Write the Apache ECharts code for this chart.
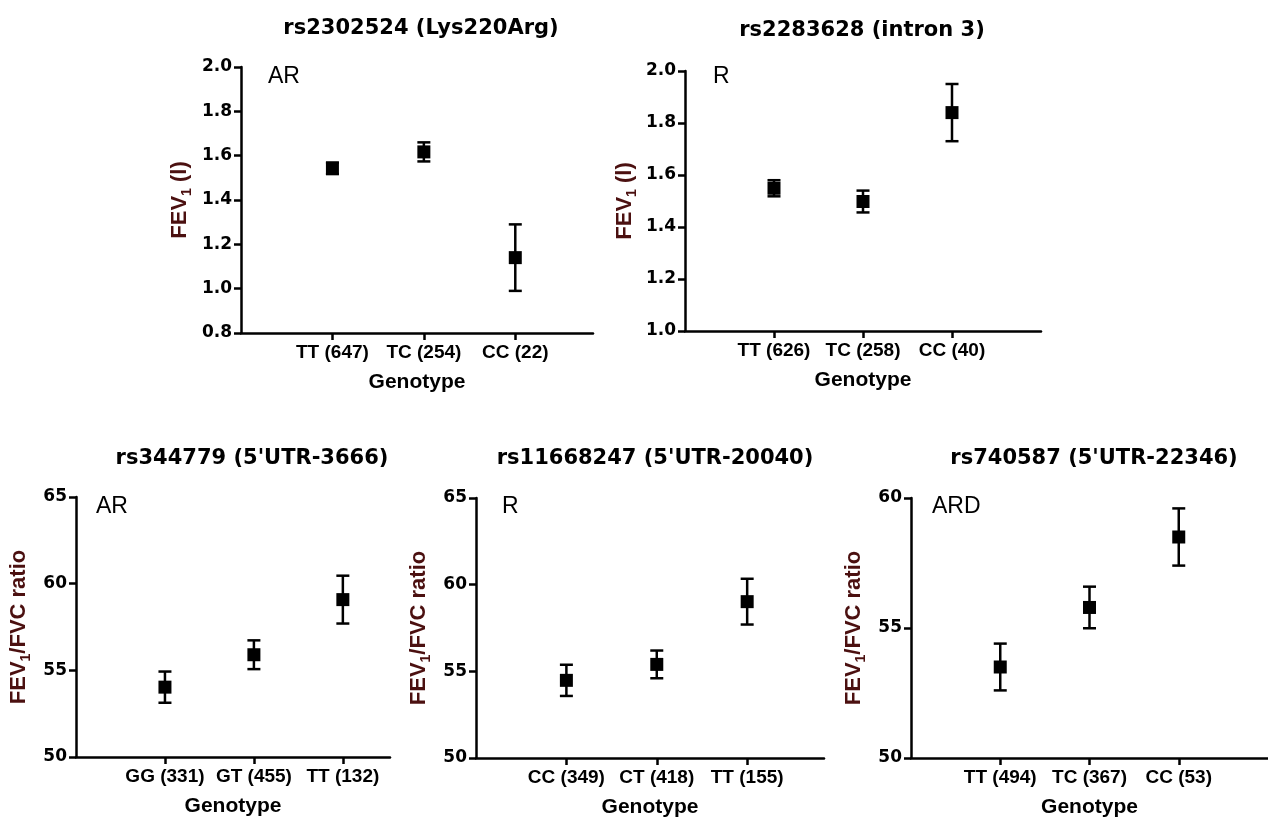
<!DOCTYPE html>
<html><head><meta charset="utf-8">
<script src="https://cdn.jsdelivr.net/npm/echarts@6/dist/echarts.min.js"></script>
<style>html,body{margin:0;padding:0;background:#fff}#c{width:1268px;height:819px}</style>
</head><body><div id="c"></div>
<script>
// ---------- DATA ----------
const titles = ["rs2302524 (Lys220Arg)", "rs2283628 (intron 3)", "rs344779 (5'UTR-3666)", "rs11668247 (5'UTR-20040)", "rs740587 (5'UTR-22346)"];
const models = ["AR", "R", "AR", "R", "ARD"];
const xName = "Genotype";

const p1Cats = ["TT (647)", "TC (254)", "CC (22)"];
const p1Mean = [1.543, 1.617, 1.14];
const p1Err  = [0.026, 0.043, 0.15];

const p2Cats = ["TT (626)", "TC (258)", "CC (40)"];
const p2Mean = [1.549, 1.498, 1.840];
const p2Err  = [0.031, 0.042, 0.11];

const p3Cats = ["GG (331)", "GT (455)", "TT (132)"];
const p3Mean = [54.03, 55.90, 59.08];
const p3Err  = [0.90, 0.83, 1.38];

const p4Cats = ["CC (349)", "CT (418)", "TT (155)"];
const p4Mean = [54.48, 55.40, 59.02];
const p4Err  = [0.90, 0.80, 1.32];

const p5Cats = ["TT (494)", "TC (367)", "CC (53)"];
const p5Mean = [53.50, 55.79, 58.50];
const p5Err  = [0.90, 0.80, 1.10];

// y-axis ranges: [min, max, step]
const p1Y = [0.8, 2.0, 0.2];
const p2Y = [1.0, 2.0, 0.2];
const p3Y = [50, 65, 5];
const p4Y = [50, 65, 5];
const p5Y = [50, 60, 5];

const yNames = ["fev", "fev", "ratio", "ratio", "ratio"];

// ---------- LAYOUT ----------
const layout = [
  {left:241, top:67,  width:352, height:266, xmax:3.85, nameGap:47, title:[421,29],  ann:[268,77]},
  {left:685, top:71,  width:356, height:260, xmax:4.0,  nameGap:46, title:[862,31],  ann:[713,77]},
  {left:76,  top:497, width:314, height:260, xmax:3.53, nameGap:43, title:[252,459], ann:[96,507]},
  {left:476, top:498, width:348, height:262, xmax:3.85, nameGap:43, title:[655,459], ann:[502,507]},
  {left:911, top:498, width:366, height:262, xmax:4.0,  nameGap:43, title:[1094,459],ann:[932,507]}
];

const panels = [
  {cats:p1Cats, mean:p1Mean, err:p1Err, y:p1Y, dec:1},
  {cats:p2Cats, mean:p2Mean, err:p2Err, y:p2Y, dec:1},
  {cats:p3Cats, mean:p3Mean, err:p3Err, y:p3Y, dec:0},
  {cats:p4Cats, mean:p4Mean, err:p4Err, y:p4Y, dec:0},
  {cats:p5Cats, mean:p5Mean, err:p5Err, y:p5Y, dec:0}
];

const SANS = '"Liberation Sans", Arial, sans-serif';
const WIDE = '"DejaVu Sans", sans-serif';
const NAMECOLOR = '#4b1010';
const richName = {
  a: {fontSize:22, fontWeight:'bold', fontFamily:SANS, color:NAMECOLOR},
  s: {fontSize:14, fontWeight:'bold', fontFamily:SANS, color:NAMECOLOR, verticalAlign:'bottom', padding:[14,0,0,0]}
};
const nameText = {
  fev: '{a|FEV}{s|1}{a| (l)}',
  ratio: '{a|FEV}{s|1}{a|/FVC ratio}'
};

function errRender(params, api) {
  const x = api.value(0), lo = api.value(1), hi = api.value(2);
  const a = api.coord([x, lo]), b = api.coord([x, hi]);
  const hw = 6.5;
  const st = {stroke:'#000', lineWidth:2.5};
  return {type:'group', children:[
    {type:'line', shape:{x1:a[0], y1:a[1], x2:b[0], y2:b[1]}, style:st},
    {type:'line', shape:{x1:a[0]-hw, y1:a[1], x2:a[0]+hw, y2:a[1]}, style:st},
    {type:'line', shape:{x1:b[0]-hw, y1:b[1], x2:b[0]+hw, y2:b[1]}, style:st}
  ]};
}

const grid = [], xAxis = [], yAxis = [], series = [], graphic = [];
panels.forEach((p, i) => {
  const L = layout[i];
  grid.push({left:L.left, top:L.top, width:L.width, height:L.height, containLabel:false});
  const idx = p.cats.map((c, k) => k + 1);
  xAxis.push({
    type:'value', gridIndex:i, min:0, max:L.xmax, interval:1,
    name:xName, nameLocation:'middle', nameGap:39,
    nameTextStyle:{fontSize:21, fontWeight:'bold', fontFamily:SANS, color:'#000', lineHeight:21},
    axisLine:{show:true, onZero:false, lineStyle:{color:'#000', width:2.5}},
    axisTick:{show:true, length:7, customValues:idx, lineStyle:{color:'#000', width:2.5}},
    axisLabel:{customValues:idx, margin:10, fontSize:19, fontWeight:'bold', fontFamily:SANS, color:'#000', lineHeight:19,
      formatter:(v) => p.cats[Math.round(v) - 1] || ''},
    splitLine:{show:false}
  });
  yAxis.push({
    type:'value', gridIndex:i, min:p.y[0], max:p.y[1], interval:p.y[2],
    name:nameText[yNames[i]], nameLocation:'middle', nameGap:L.nameGap, nameRotate:90,
    nameTextStyle:{rich:richName},
    axisLine:{show:true, onZero:false, lineStyle:{color:'#000', width:2.5}},
    axisTick:{show:true, length:7, lineStyle:{color:'#000', width:2.5}},
    axisLabel:{margin:9, fontSize:17, fontWeight:'bold', fontFamily:WIDE, color:'#000',
      formatter:(v) => v.toFixed(p.dec)},
    splitLine:{show:false}
  });
  series.push({
    type:'custom', xAxisIndex:i, yAxisIndex:i, renderItem:errRender,
    data:p.mean.map((m, k) => [k + 1, m - p.err[k], m + p.err[k]]), z:2
  });
  series.push({
    type:'scatter', xAxisIndex:i, yAxisIndex:i, symbol:'rect', symbolSize:13,
    itemStyle:{color:'#000', opacity:1}, data:p.mean.map((m, k) => [k + 1, m]), z:3
  });
  graphic.push({type:'text', x:L.title[0], y:L.title[1], style:{text:titles[i], fontSize:21, fontWeight:'bold', fontFamily:WIDE, fill:'#000', align:'center', verticalAlign:'middle'}});
  graphic.push({type:'text', x:L.ann[0], y:L.ann[1], style:{text:models[i], fontSize:23, fontFamily:SANS, fill:'#000', align:'left', verticalAlign:'middle'}});
});

const chart = echarts.init(document.getElementById('c'), null, {renderer:'canvas'});
chart.setOption({animation:false, backgroundColor:'#fff', grid, xAxis, yAxis, series, graphic});
</script>
</body></html>
